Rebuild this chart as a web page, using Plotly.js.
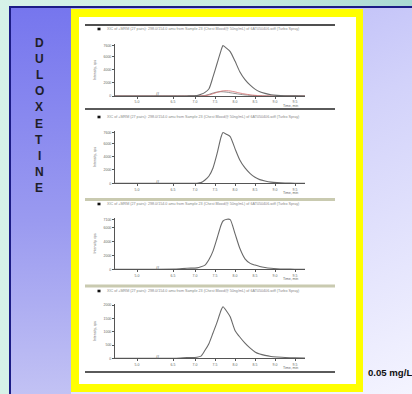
<!DOCTYPE html>
<html><head><meta charset="utf-8">
<script src="https://cdn.plot.ly/plotly-3.0.1.min.js"></script>
<style>
html,body{margin:0;padding:0;width:412px;height:394px;overflow:hidden;}
#bg{position:absolute;left:0;top:0;width:412px;height:394px;background:linear-gradient(90deg,#d6f2e8 0%,#c6eae0 60%,#a9d9d2 100%);}
#navy{position:absolute;left:9px;top:6px;right:0;bottom:0;background:#1c1c86;}
#main{position:absolute;left:11px;top:8px;right:0;bottom:0;background:linear-gradient(155deg,#aeaef6 0%,#d2d2fa 45%,#f4f4ff 100%);}
#leftcol{position:absolute;left:11px;top:8px;width:60px;bottom:0;background:linear-gradient(180deg,#7676ee 0%,#9a9af0 55%,#c2c2f4 100%);}
#chart{position:absolute;left:0;top:0;width:412px;height:394px;}
</style></head>
<body>
<div id="bg"></div><div id="navy"></div><div id="main"></div><div id="leftcol"></div>
<div id="chart"></div>
<script>
// ---- data ----
const timeMin = [5.0,5.5,6.0,6.5,6.8,7.05,7.15,7.25,7.35,7.45,7.55,7.65,7.7,7.8,7.88,8.0,8.12,8.25,8.38,8.5,8.62,8.75,8.9,9.05,9.25,9.5,9.75];
const panel1Main = [0,0,0,0,10,60,250,550,1100,2900,4900,6900,7650,7200,6750,5300,3700,2500,1650,1050,650,400,200,100,40,20,10];
const panel1Red  = [0,0,0,0,0,0,10,50,150,350,550,720,780,800,760,620,450,300,180,100,50,20,0,0,0,0,0];
const panel1Dark = [0,0,0,0,0,0,20,80,250,450,600,650,640,580,500,380,260,160,90,50,20,0,0,0,0,0,0];
const panel2 = [0,0,0,0,0,0,100,500,1100,2300,4400,6900,7600,7300,7000,5200,3500,2300,1450,900,550,350,180,100,40,15,5];
const panel3 = [0,0,0,20,150,200,350,600,1400,2600,4400,6300,6900,7150,7100,5100,3000,1500,850,600,400,260,150,80,40,15,5];
const panel4 = [0,0,0,0,25,40,80,300,560,950,1350,1800,1940,1750,1560,1050,800,570,380,240,160,110,70,50,30,20,10];
const xTickVals = [5.55,6.45,7.0,7.5,8.0,8.5,9.0,9.5];
const xTickText = ["5.0","6.5","7.0","7.5","8.0","8.5","9.0","9.5"];
const yTicks1 = [0,2000,4000,6000,7600];
const yTicks3 = [0,2000,4000,6000,7100];
const yTicks4 = [0,500,1000,1500,2000];
const headerText = "XIC of +MRM (27 pairs): 298.0/154.0 amu from Sample 23 (Chest Blood@ 50ng/mL) of 6AT050406.wiff (Turbo Spray)";
const sideTitle = "DULOXETINE";
const concLabel = "0.05 mg/L";

// ---- helpers ----
const W=412,H=394;
const px=x=>x/W, py=y=>1-y/H;
const lineCol="#6a6a6a";
function tr(y,xa,ya,color,w){return {x:timeMin,y:y,xaxis:xa,yaxis:ya,type:'scatter',mode:'lines',line:{color:color,width:w||1,shape:'spline',smoothing:0.6},hoverinfo:'skip'};}
const data=[
  tr(panel1Dark,'x','y','#777777',0.8),
  tr(panel1Red,'x','y','#d06a6a',0.8),
  tr(panel1Main,'x','y',lineCol,1.1),
  tr(panel2,'x2','y2',lineCol,1.1),
  tr(panel3,'x3','y3',lineCol,1.1),
  tr(panel4,'x4','y4',lineCol,1.1)
];
const tickFont={size:3.5,color:'#666',family:'Liberation Sans, Arial'};
function xax(anchor){return {domain:[px(115),px(305)],range:[5.0,9.75],anchor:anchor,showgrid:false,zeroline:false,showline:true,linecolor:'#555',linewidth:1,ticks:'outside',ticklen:2,tickcolor:'#555',tickvals:xTickVals,ticktext:xTickText,tickfont:tickFont};}
function yax(anchor,top,bottom,range,tv){return {domain:[py(bottom),py(top)],range:range,anchor:anchor,showgrid:false,zeroline:false,showline:true,linecolor:'#555',linewidth:1,ticks:'outside',ticklen:2,tickcolor:'#555',tickvals:tv,ticktext:tv.map(String),tickfont:tickFont};}
const panels=[{top:44,bottom:96,range:[0,7900],tv:yTicks1,hdr:29},
              {top:130.6,bottom:183.3,range:[0,7900],tv:yTicks1,hdr:117},
              {top:217.5,bottom:269.3,range:[0,7400],tv:yTicks3,hdr:204},
              {top:303.8,bottom:358.3,range:[0,2050],tv:yTicks4,hdr:291}];
const layout={width:W,height:H,margin:{l:0,r:0,t:0,b:0},paper_bgcolor:'rgba(0,0,0,0)',plot_bgcolor:'rgba(0,0,0,0)',showlegend:false,
  font:{family:'Liberation Sans, Arial'},shapes:[],annotations:[]};
panels.forEach((p,i)=>{
  const s=i===0?'':String(i+1);
  layout['xaxis'+s]=xax('y'+s);
  layout['yaxis'+s]=yax('x'+s,p.top,p.bottom,p.range,p.tv);
});
// frame
layout.shapes.push({type:'rect',xref:'paper',yref:'paper',x0:px(71),x1:px(363),y0:py(392),y1:py(9),fillcolor:'#ffff00',line:{width:0},layer:'below'});
layout.shapes.push({type:'rect',xref:'paper',yref:'paper',x0:px(79),x1:px(356),y0:py(384),y1:py(17),fillcolor:'#ffffff',line:{width:0},layer:'below'});
// separators
[[25,'#505050',2],[109,'#5a5a5a',2],[199.5,'#c9cab0',3],[286,'#c9cab0',3],[372,'#5a5a5a',2]].forEach(([y,c,w])=>{
  layout.shapes.push({type:'line',xref:'paper',yref:'paper',x0:px(85),x1:px(335),y0:py(y),y1:py(y),line:{color:c,width:w}});
});
panels.forEach((p,i)=>{
  layout.shapes.push({type:'rect',xref:'paper',yref:'paper',x0:px(97.5),x1:px(100.5),y0:py(p.hdr+1.3),y1:py(p.hdr-1.3),fillcolor:'#111',line:{width:0}});
  layout.annotations.push({xref:'paper',yref:'paper',x:px(105),y:py(p.hdr),xanchor:'left',yanchor:'middle',showarrow:false,text:headerText,font:{size:3.7,color:'#888'}});
  layout.annotations.push({xref:'paper',yref:'paper',x:px(95),y:py((p.top+p.bottom)/2),xanchor:'center',yanchor:'middle',showarrow:false,textangle:-90,text:'Intensity, cps',font:{size:3.5,color:'#666'}});
  layout.annotations.push({xref:'paper',yref:'paper',x:px(300),y:py(p.bottom+10),xanchor:'right',yanchor:'middle',showarrow:false,text:'Time, min',font:{size:3.5,color:'#666'}});
  layout.annotations.push({xref:'paper',yref:'paper',x:px(157),y:py(p.bottom-1.5),xanchor:'center',yanchor:'middle',showarrow:false,text:'//',font:{size:5,color:'#666'}});
});
sideTitle.split('').forEach((ch,k)=>{
  layout.annotations.push({xref:'paper',yref:'paper',x:px(39),y:py(43+k*16.1),xanchor:'center',yanchor:'middle',showarrow:false,text:'<b>'+ch+'</b>',font:{size:12,color:'#1e1e2a',family:'Liberation Sans, Arial'}});
});
layout.annotations.push({xref:'paper',yref:'paper',x:px(366),y:py(372.5),xanchor:'left',yanchor:'middle',showarrow:false,text:'<b>'+concLabel+'</b>',font:{size:9.6,color:'#111',family:'Liberation Sans, Arial'}});
Plotly.newPlot('chart',data,layout,{staticPlot:true,displayModeBar:false});
</script>
</body></html>
